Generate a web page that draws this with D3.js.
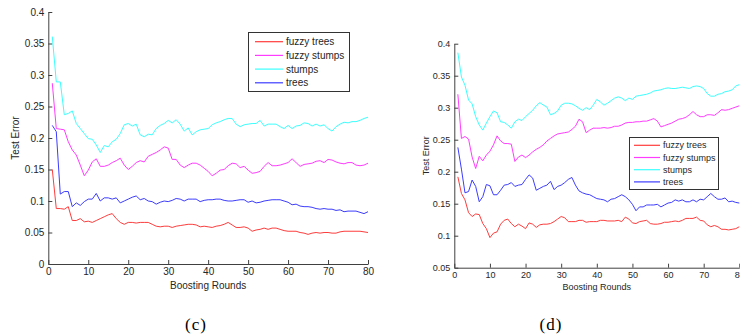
<!DOCTYPE html>
<html>
<head>
<meta charset="utf-8">
<script src="https://cdn.jsdelivr.net/npm/d3@7/dist/d3.min.js"></script>
<style>
  body { margin: 0; background: #fff; }
  svg { display: block; }
</style>
</head>
<body>
<svg id="chart" width="740" height="336"></svg>
<script>
// Test error per boosting round (rounds 1..80), panel (c)
const cFuzzyTrees = [0.150,0.088,0.088,0.087,0.091,0.069,0.069,0.072,0.067,0.068,0.066,0.069,0.072,0.075,0.078,0.080,0.072,0.066,0.063,0.066,
  0.066,0.065,0.066,0.066,0.066,0.063,0.060,0.059,0.060,0.060,0.058,0.060,0.061,0.062,0.063,0.063,0.062,0.059,0.060,0.059,
  0.058,0.060,0.061,0.063,0.066,0.062,0.058,0.058,0.059,0.057,0.052,0.054,0.055,0.057,0.055,0.057,0.057,0.055,0.053,0.052,
  0.052,0.052,0.050,0.049,0.047,0.049,0.050,0.049,0.050,0.050,0.049,0.049,0.051,0.052,0.052,0.052,0.052,0.052,0.051,0.050];
const cFuzzyStumps = [0.287,0.215,0.214,0.213,0.194,0.181,0.173,0.157,0.140,0.149,0.162,0.167,0.155,0.155,0.157,0.161,0.164,0.168,0.157,0.150,
  0.155,0.161,0.164,0.162,0.171,0.174,0.177,0.181,0.186,0.184,0.166,0.166,0.157,0.153,0.157,0.160,0.160,0.157,0.152,0.147,
  0.140,0.144,0.149,0.150,0.156,0.160,0.159,0.153,0.155,0.149,0.144,0.145,0.147,0.155,0.161,0.156,0.156,0.157,0.159,0.161,
  0.167,0.161,0.155,0.158,0.159,0.160,0.163,0.164,0.161,0.166,0.165,0.162,0.160,0.159,0.161,0.161,0.157,0.156,0.157,0.160];
const cStumps = [0.361,0.289,0.289,0.237,0.239,0.243,0.223,0.215,0.207,0.199,0.198,0.189,0.177,0.188,0.186,0.194,0.198,0.207,0.221,0.223,
  0.219,0.222,0.205,0.202,0.206,0.205,0.215,0.220,0.223,0.228,0.224,0.229,0.222,0.211,0.216,0.205,0.210,0.213,0.214,0.215,
  0.221,0.224,0.226,0.229,0.231,0.231,0.222,0.218,0.221,0.222,0.223,0.223,0.228,0.219,0.222,0.222,0.222,0.218,0.215,0.220,
  0.215,0.219,0.220,0.224,0.223,0.219,0.222,0.219,0.221,0.215,0.211,0.218,0.222,0.225,0.224,0.226,0.226,0.228,0.231,0.233];
const cTrees = [0.220,0.210,0.111,0.115,0.115,0.091,0.097,0.093,0.099,0.103,0.103,0.112,0.100,0.105,0.105,0.103,0.105,0.097,0.100,0.103,
  0.106,0.108,0.102,0.104,0.100,0.099,0.095,0.098,0.100,0.099,0.101,0.104,0.103,0.100,0.103,0.103,0.103,0.099,0.101,0.102,
  0.102,0.103,0.103,0.101,0.100,0.100,0.101,0.102,0.102,0.098,0.100,0.097,0.098,0.100,0.101,0.102,0.102,0.102,0.100,0.098,
  0.094,0.095,0.092,0.091,0.091,0.090,0.088,0.087,0.088,0.087,0.087,0.085,0.086,0.083,0.084,0.084,0.084,0.082,0.080,0.083];

// Test error per boosting round (rounds 1..80), panel (d)
const dFuzzyTrees = [0.192,0.166,0.156,0.136,0.130,0.134,0.133,0.119,0.111,0.097,0.104,0.106,0.118,0.124,0.126,0.119,0.114,0.118,0.115,0.111,
  0.120,0.118,0.113,0.117,0.118,0.118,0.119,0.122,0.126,0.130,0.128,0.122,0.122,0.122,0.124,0.124,0.121,0.122,0.122,0.122,
  0.124,0.124,0.123,0.123,0.123,0.124,0.122,0.129,0.126,0.120,0.119,0.122,0.123,0.124,0.119,0.118,0.118,0.119,0.121,0.121,
  0.122,0.123,0.122,0.124,0.127,0.127,0.127,0.129,0.124,0.123,0.117,0.114,0.116,0.114,0.110,0.110,0.109,0.110,0.111,0.114];
const dFuzzyStumps = [0.321,0.252,0.255,0.251,0.223,0.205,0.224,0.217,0.226,0.232,0.242,0.256,0.248,0.244,0.244,0.243,0.216,0.223,0.226,0.222,
  0.226,0.231,0.235,0.238,0.242,0.248,0.252,0.256,0.259,0.260,0.261,0.262,0.266,0.271,0.282,0.278,0.261,0.265,0.268,0.268,
  0.268,0.269,0.268,0.269,0.271,0.271,0.273,0.276,0.277,0.277,0.278,0.278,0.279,0.279,0.281,0.283,0.279,0.270,0.272,0.274,
  0.276,0.279,0.282,0.283,0.285,0.289,0.294,0.289,0.286,0.286,0.289,0.289,0.288,0.292,0.297,0.296,0.297,0.299,0.301,0.303];
const dStumps = [0.386,0.348,0.335,0.312,0.306,0.286,0.273,0.265,0.276,0.286,0.295,0.292,0.278,0.277,0.273,0.268,0.278,0.282,0.280,0.286,
  0.291,0.296,0.303,0.308,0.304,0.301,0.289,0.291,0.295,0.304,0.307,0.307,0.306,0.303,0.299,0.296,0.300,0.297,0.304,0.313,
  0.309,0.304,0.307,0.311,0.315,0.317,0.315,0.311,0.315,0.313,0.318,0.319,0.320,0.321,0.323,0.326,0.327,0.328,0.330,0.331,
  0.330,0.330,0.331,0.332,0.331,0.330,0.333,0.334,0.333,0.330,0.322,0.318,0.318,0.321,0.322,0.325,0.326,0.328,0.334,0.336];
const dTrees = [0.238,0.204,0.167,0.169,0.187,0.177,0.153,0.161,0.180,0.178,0.164,0.164,0.171,0.179,0.180,0.183,0.177,0.179,0.180,0.188,
  0.195,0.190,0.171,0.174,0.177,0.179,0.185,0.172,0.177,0.179,0.183,0.188,0.191,0.179,0.170,0.167,0.165,0.164,0.161,0.158,
  0.157,0.156,0.153,0.157,0.158,0.161,0.164,0.161,0.156,0.149,0.139,0.145,0.145,0.148,0.148,0.148,0.149,0.145,0.148,0.151,
  0.152,0.156,0.154,0.156,0.153,0.153,0.156,0.153,0.157,0.156,0.161,0.166,0.161,0.157,0.157,0.159,0.153,0.154,0.152,0.151];

const seriesNames = ["fuzzy trees", "fuzzy stumps", "stumps", "trees"];
const seriesColors = ["#ff3c3c", "#ff3cff", "#3cffff", "#3c3cff"];
const xTicks = [0, 10, 20, 30, 40, 50, 60, 70, 80];
const cYTicks = [0, 0.05, 0.1, 0.15, 0.2, 0.25, 0.3, 0.35, 0.4];
const dYTicks = [0.05, 0.1, 0.15, 0.2, 0.25, 0.3, 0.35, 0.4];

const panels = [
  {
    caption: "(c)", series: [cFuzzyTrees, cFuzzyStumps, cStumps, cTrees],
    yDomain: [0, 0.4], yTicks: cYTicks,
    left: 48.3, right: 368, top: 12, bottom: 264, font: 10,
    yLabelX: 15, xLabelY: 285, captionX: 196,
    legend: { x: 248, y: 32, w: 101, h: 59, row0: 41.7, step: 13.7, l0: 255, l1: 283, tx: 286 }
  },
  {
    caption: "(d)", series: [dFuzzyTrees, dFuzzyStumps, dStumps, dTrees],
    yDomain: [0.05, 0.4], yTicks: dYTicks,
    left: 454.3, right: 739.3, top: 43.7, bottom: 267.7, font: 9,
    yLabelX: 425.7, xLabelY: 286.7, captionX: 551,
    legend: { x: 629, y: 137, w: 89, h: 52, row0: 145.3, step: 12.2, l0: 634, l1: 660, tx: 663 }
  }
];

const svg = d3.select("#chart");
const textColor = "#262626";
const axisColor = "#404040";
const sans = "'Liberation Sans', Arial, Helvetica, sans-serif";

panels.forEach(p => {
  const x = d3.scaleLinear().domain([0, 80]).range([p.left, p.right]);
  const y = d3.scaleLinear().domain(p.yDomain).range([p.bottom, p.top]);
  const g = svg.append("g");

  // axes with inward tick marks
  const yAxis = d3.axisLeft(y).tickValues(p.yTicks).tickFormat(d3.format("~g"))
    .tickSizeInner(-4).tickSizeOuter(0).tickPadding(4);
  const xAxis = d3.axisBottom(x).tickValues(xTicks).tickFormat(d3.format("d"))
    .tickSizeInner(-4).tickSizeOuter(0).tickPadding(4);

  const ya = g.append("g").attr("transform", `translate(${p.left},0)`).call(yAxis);
  const xa = g.append("g").attr("transform", `translate(0,${p.bottom})`).call(xAxis);
  [ya, xa].forEach(a => {
    a.select(".domain").attr("stroke", axisColor).attr("stroke-width", 1);
    a.selectAll(".tick line").attr("stroke", axisColor);
    a.selectAll(".tick text").attr("fill", textColor)
      .style("font-family", sans).style("font-size", p.font + "px");
  });

  // series lines, drawn in legend order
  const line = d3.line().x((d, i) => x(i + 1)).y(d => y(d));
  p.series.forEach((vals, k) => {
    g.append("path").datum(vals)
      .attr("fill", "none").attr("stroke", seriesColors[k])
      .attr("stroke-width", 1).attr("stroke-linejoin", "round")
      .attr("d", line);
  });

  // axis titles
  g.append("text")
    .attr("transform", `translate(${p.yLabelX},${(p.top + p.bottom) / 2}) rotate(-90)`)
    .attr("text-anchor", "middle").attr("dominant-baseline", "central")
    .attr("fill", textColor).style("font-family", sans).style("font-size", p.font + "px")
    .text("Test Error");
  g.append("text")
    .attr("x", (p.left + p.right) / 2).attr("y", p.xLabelY)
    .attr("text-anchor", "middle").attr("dominant-baseline", "central")
    .attr("fill", textColor).style("font-family", sans).style("font-size", p.font + "px")
    .text("Boosting Rounds");

  // legend
  const L = p.legend;
  g.append("rect").attr("x", L.x + 0.5).attr("y", L.y + 0.5).attr("width", L.w).attr("height", L.h)
    .attr("fill", "#fff").attr("stroke", "#333").attr("stroke-width", 1);
  seriesNames.forEach((name, k) => {
    const ry = L.row0 + k * L.step;
    g.append("line").attr("x1", L.l0).attr("x2", L.l1).attr("y1", ry).attr("y2", ry)
      .attr("stroke", seriesColors[k]).attr("stroke-width", 1.2);
    g.append("text").attr("x", L.tx).attr("y", ry)
      .attr("dominant-baseline", "central").attr("fill", textColor)
      .style("font-family", sans).style("font-size", p.font + "px")
      .text(name);
  });

  // panel caption
  svg.append("text").attr("x", p.captionX).attr("y", 324)
    .attr("text-anchor", "middle").attr("dominant-baseline", "central")
    .attr("fill", "#000").style("font-family", "'Liberation Serif', 'Times New Roman', serif")
    .style("font-size", "17px").style("letter-spacing", "1px").text(p.caption);
});
</script>
</body>
</html>
